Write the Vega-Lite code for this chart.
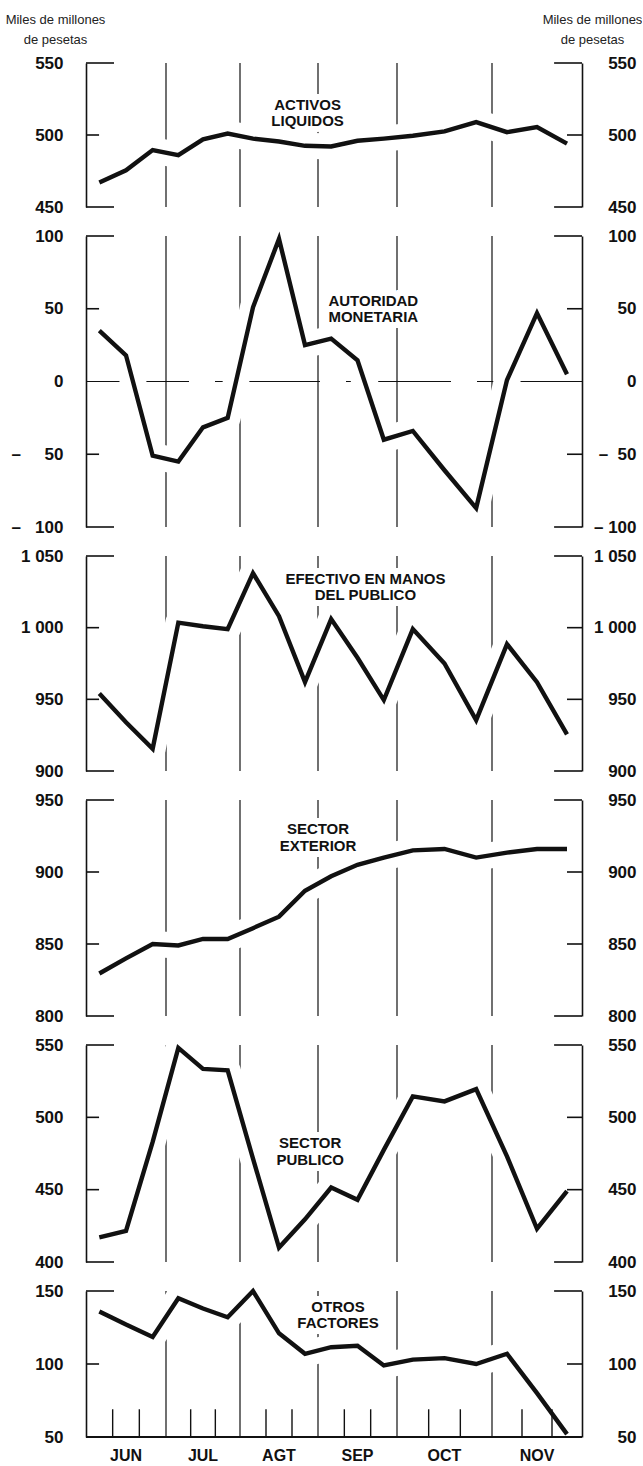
{
  "$schema": "https://vega.github.io/schema/vega-lite/v6.json",
  "background": "white",
  "padding": {"left": 5, "top": 13, "right": 0, "bottom": 0},
  "spacing": 29,
  "bounds": "flush",
  "config": {"view": {"stroke": null}, "font": "Liberation Sans"},
  "datasets": {
    "act": [
      {"i":0.5,"v":467},{"i":1.5,"v":475.5},{"i":2.5,"v":489.5},{"i":3.5,"v":486},{"i":4.5,"v":497},{"i":5.5,"v":501},
      {"i":6.5,"v":497.5},{"i":7.5,"v":495.5},{"i":8.5,"v":492.5},{"i":9.5,"v":492},{"i":10.5,"v":496},{"i":11.5,"v":497.5},
      {"i":12.5,"v":499.5},{"i":13.5,"v":502.5},{"i":14.5,"v":509},{"i":15.5,"v":502},{"i":16.5,"v":505.5},{"i":17.5,"v":494}
    ],
    "aut": [
      {"i":0.5,"v":35},{"i":1.5,"v":18},{"i":2.5,"v":-51},{"i":3.5,"v":-55},{"i":4.5,"v":-31.5},{"i":5.5,"v":-25},
      {"i":6.5,"v":51},{"i":7.5,"v":98},{"i":8.5,"v":25},{"i":9.5,"v":29.5},{"i":10.5,"v":14.5},{"i":11.5,"v":-40},
      {"i":12.5,"v":-34},{"i":13.5,"v":-61},{"i":14.5,"v":-87},{"i":15.5,"v":1},{"i":16.5,"v":47},{"i":17.5,"v":5}
    ],
    "efe": [
      {"i":0.5,"v":954},{"i":1.5,"v":934},{"i":2.5,"v":915.5},{"i":3.5,"v":1003.5},{"i":4.5,"v":1001},{"i":5.5,"v":999},
      {"i":6.5,"v":1038},{"i":7.5,"v":1008},{"i":8.5,"v":962},{"i":9.5,"v":1006},{"i":10.5,"v":979},{"i":11.5,"v":949.5},
      {"i":12.5,"v":999},{"i":13.5,"v":975},{"i":14.5,"v":935.5},{"i":15.5,"v":988.5},{"i":16.5,"v":962},{"i":17.5,"v":925.5}
    ],
    "ext": [
      {"i":0.5,"v":829.5},{"i":1.5,"v":840},{"i":2.5,"v":850},{"i":3.5,"v":849},{"i":4.5,"v":853.5},{"i":5.5,"v":853.5},
      {"i":6.5,"v":861},{"i":7.5,"v":869},{"i":8.5,"v":887},{"i":9.5,"v":897},{"i":10.5,"v":905},{"i":11.5,"v":910},
      {"i":12.5,"v":915},{"i":13.5,"v":916},{"i":14.5,"v":910},{"i":15.5,"v":913.5},{"i":16.5,"v":916},{"i":17.5,"v":916}
    ],
    "pub": [
      {"i":0.5,"v":417},{"i":1.5,"v":421.5},{"i":2.5,"v":483},{"i":3.5,"v":548},{"i":4.5,"v":533.5},{"i":5.5,"v":532.5},
      {"i":6.5,"v":471.5},{"i":7.5,"v":410},{"i":8.5,"v":429.5},{"i":9.5,"v":451.5},{"i":10.5,"v":443},{"i":11.5,"v":477.5},
      {"i":12.5,"v":514.5},{"i":13.5,"v":511},{"i":14.5,"v":519.5},{"i":15.5,"v":473},{"i":16.5,"v":423},{"i":17.5,"v":449}
    ],
    "otr": [
      {"i":0.5,"v":136},{"i":1.5,"v":127},{"i":2.5,"v":118.5},{"i":3.5,"v":145},{"i":4.5,"v":138},{"i":5.5,"v":132},
      {"i":6.5,"v":150},{"i":7.5,"v":121},{"i":8.5,"v":107},{"i":9.5,"v":111.5},{"i":10.5,"v":112.5},{"i":11.5,"v":99},
      {"i":12.5,"v":103},{"i":13.5,"v":104},{"i":14.5,"v":100},{"i":15.5,"v":107},{"i":16.5,"v":80},{"i":17.5,"v":52}
    ],
    "months": [{"b":3},{"b":6},{"b":9},{"b":12},{"b":15}],
    "monthNames": [{"m":"JUN","c":1.5},{"m":"JUL","c":4.5},{"m":"AGT","c":7.5},{"m":"SEP","c":10.5},{"m":"OCT","c":13.5},{"m":"NOV","c":16.5}]
  },
  "vconcat": [
    {
      "width": 496, "height": 144,
      "resolve": {"axis": {"y": "independent"}},
      "layer": [
        {"data": {"name": "months"}, "mark": {"type": "rule", "color": "#111", "strokeWidth": 1.2},
         "encoding": {"x": {"field": "b", "type": "quantitative", "scale": {"domain": [0,3,6,9,12,15,18], "range": [0,80,154,232,311,406,496], "nice": false, "zero": false}, "axis": null}}},
        {"data": {"name": "act"}, "mark": {"type": "line", "color": "white", "strokeWidth": 26, "strokeJoin": "round", "strokeCap": "butt"},
         "encoding": {
           "x": {"field": "i", "type": "quantitative", "axis": null},
           "y": {"field": "v", "type": "quantitative", "scale": {"domain": [450, 550], "nice": false, "zero": false},
                 "axis": {"orient": "left", "values": [450, 500, 550], "domain": true, "domainColor": "#111", "domainWidth": 1.6, "ticks": false, "grid": false,
                          "labelPadding": 23, "labelFontSize": 17, "labelFont": "Liberation Sans", "labelFontWeight": "bold", "labelColor": "#111",
                          "labelFlush": false, "labelOverlap": false, "labelBound": false, "zindex": 2,
                          "title": ["Miles de millones", "de pesetas"], "titleAngle": 0, "titleAlign": "center", "titleBaseline": "alphabetic",
                          "titleX": -31, "titleY": -40, "titleFont": "Liberation Sans", "titleFontSize": 13, "titleFontWeight": "normal", "titleColor": "#222", "titleLineHeight": 20}}
         }},
        {"data": {"values": [{"label": "ACTIVOS\nLIQUIDOS"}]}, "mark": {"type": "text", "lineBreak": "\n", "fontSize": 15, "fontWeight": "bold", "lineHeight": 16, "stroke": "white", "strokeWidth": 12, "baseline": "middle", "align": "center"},
         "encoding": {"x": {"datum": 8.6, "type": "quantitative", "axis": null}, "y": {"datum": 521, "type": "quantitative", "axis": null}, "text": {"field": "label"}}},
        {"data": {"name": "act"}, "mark": {"type": "line", "color": "#111", "strokeWidth": 4.4, "strokeJoin": "miter"},
         "encoding": {
           "x": {"field": "i", "type": "quantitative", "axis": null},
           "y": {"field": "v", "type": "quantitative",
                 "axis": {"orient": "right", "values": [450, 500, 550], "domain": true, "domainColor": "#111", "domainWidth": 1.6, "ticks": false, "grid": false,
                          "labelPadding": 54, "labelAlign": "right", "labelFontSize": 17, "labelFont": "Liberation Sans", "labelFontWeight": "bold", "labelColor": "#111",
                          "labelFlush": false, "labelOverlap": false, "labelBound": false, "zindex": 2,
                          "title": ["Miles de millones", "de pesetas"], "titleAngle": 0, "titleAlign": "center", "titleBaseline": "alphabetic",
                          "titleX": 10, "titleY": -40, "titleFont": "Liberation Sans", "titleFontSize": 13, "titleFontWeight": "normal", "titleColor": "#222", "titleLineHeight": 20}}
         }},
        {"data": {"values": [{"label": "ACTIVOS\nLIQUIDOS"}]}, "mark": {"type": "text", "lineBreak": "\n", "fontSize": 15, "fontWeight": "bold", "lineHeight": 16, "color": "#111", "baseline": "middle", "align": "center"},
         "encoding": {"x": {"datum": 8.6, "type": "quantitative", "axis": null}, "y": {"datum": 521, "type": "quantitative", "axis": null}, "text": {"field": "label"}}},
        {"data": {"values": [{"v": 450}, {"v": 550}]}, "mark": {"type": "rule", "color": "#111", "strokeWidth": 1.6},
         "encoding": {"x": {"datum": 0, "type": "quantitative", "axis": null}, "x2": {"datum": 1.05}, "y": {"field": "v", "type": "quantitative", "axis": null}}},
        {"data": {"values": [{"v": 450}, {"v": 550}]}, "mark": {"type": "rule", "color": "#111", "strokeWidth": 1.6},
         "encoding": {"x": {"datum": 18, "type": "quantitative", "axis": null}, "x2": {"datum": 17.07}, "y": {"field": "v", "type": "quantitative", "axis": null}}},
        {"data": {"values": [{"v": 500}]}, "mark": {"type": "rule", "color": "#111", "strokeWidth": 1.6},
         "encoding": {"x": {"datum": 0, "type": "quantitative", "axis": null}, "x2": {"datum": 0.49}, "y": {"field": "v", "type": "quantitative", "axis": null}}},
        {"data": {"values": [{"v": 500}]}, "mark": {"type": "rule", "color": "#111", "strokeWidth": 1.6},
         "encoding": {"x": {"datum": 18, "type": "quantitative", "axis": null}, "x2": {"datum": 17.5}, "y": {"field": "v", "type": "quantitative", "axis": null}}}
      ]
    },
    {
      "width": 496, "height": 291,
      "resolve": {"axis": {"y": "independent"}},
      "layer": [
        {"data": {"name": "months"}, "mark": {"type": "rule", "color": "#111", "strokeWidth": 1.2},
         "encoding": {"x": {"field": "b", "type": "quantitative", "scale": {"domain": [0,3,6,9,12,15,18], "range": [0,80,154,232,311,406,496], "nice": false, "zero": false}, "axis": null}}},
        {"data": {"values": [{"z": 0}]}, "mark": {"type": "rule", "color": "#111", "strokeWidth": 1.2, "strokeDash": [105, 26]},
         "encoding": {"y": {"field": "z", "type": "quantitative", "scale": {"domain": [-100, 100], "nice": false, "zero": false}, "axis": null}}},
        {"data": {"name": "aut"}, "mark": {"type": "line", "color": "white", "strokeWidth": 26, "strokeJoin": "round", "strokeCap": "butt"},
         "encoding": {
           "x": {"field": "i", "type": "quantitative", "axis": null},
           "y": {"field": "v", "type": "quantitative",
                 "axis": {"orient": "left", "values": [-100, -50, 0, 50, 100], "domain": true, "domainColor": "#111", "domainWidth": 1.6, "ticks": false, "grid": false,
                          "labelPadding": 23, "labelFontSize": 17, "labelFont": "Liberation Sans", "labelFontWeight": "bold", "labelColor": "#111",
                          "labelFlush": false, "labelOverlap": false, "labelBound": false, "zindex": 2, "title": null,
                          "labelExpr": "datum.value == -50 ? '–\u00a0\u00a0\u00a0\u00a0\u00a050' : datum.value == -100 ? '–\u00a0\u00a0\u00a0100' : format(datum.value, 'd')"}}
         }},
        {"data": {"values": [{"label": "AUTORIDAD\nMONETARIA"}]}, "mark": {"type": "text", "lineBreak": "\n", "fontSize": 15, "fontWeight": "bold", "lineHeight": 16, "stroke": "white", "strokeWidth": 12, "baseline": "middle", "align": "center"},
         "encoding": {"x": {"datum": 11.1, "type": "quantitative", "axis": null}, "y": {"datum": 55.5, "type": "quantitative", "axis": null}, "text": {"field": "label"}}},
        {"data": {"name": "aut"}, "mark": {"type": "line", "color": "#111", "strokeWidth": 4.4, "strokeJoin": "miter"},
         "encoding": {
           "x": {"field": "i", "type": "quantitative", "axis": null},
           "y": {"field": "v", "type": "quantitative",
                 "axis": {"orient": "right", "values": [-100, -50, 0, 50, 100], "domain": true, "domainColor": "#111", "domainWidth": 1.6, "ticks": false, "grid": false,
                          "labelPadding": 54, "labelAlign": "right", "labelFontSize": 17, "labelFont": "Liberation Sans", "labelFontWeight": "bold", "labelColor": "#111",
                          "labelFlush": false, "labelOverlap": false, "labelBound": false, "zindex": 2, "title": null,
                          "labelExpr": "datum.value == -50 ? '–\u00a0\u00a050' : datum.value == -100 ? '–\u00a0100' : format(datum.value, 'd')"}}
         }},
        {"data": {"values": [{"label": "AUTORIDAD\nMONETARIA"}]}, "mark": {"type": "text", "lineBreak": "\n", "fontSize": 15, "fontWeight": "bold", "lineHeight": 16, "color": "#111", "baseline": "middle", "align": "center"},
         "encoding": {"x": {"datum": 11.1, "type": "quantitative", "axis": null}, "y": {"datum": 55.5, "type": "quantitative", "axis": null}, "text": {"field": "label"}}},
        {"data": {"values": [{"v": -100}, {"v": 100}]}, "mark": {"type": "rule", "color": "#111", "strokeWidth": 1.6},
         "encoding": {"x": {"datum": 0, "type": "quantitative", "axis": null}, "x2": {"datum": 1.05}, "y": {"field": "v", "type": "quantitative", "axis": null}}},
        {"data": {"values": [{"v": -100}, {"v": 100}]}, "mark": {"type": "rule", "color": "#111", "strokeWidth": 1.6},
         "encoding": {"x": {"datum": 18, "type": "quantitative", "axis": null}, "x2": {"datum": 17.07}, "y": {"field": "v", "type": "quantitative", "axis": null}}},
        {"data": {"values": [{"v": -50}, {"v": 50}]}, "mark": {"type": "rule", "color": "#111", "strokeWidth": 1.6},
         "encoding": {"x": {"datum": 0, "type": "quantitative", "axis": null}, "x2": {"datum": 0.49}, "y": {"field": "v", "type": "quantitative", "axis": null}}},
        {"data": {"values": [{"v": -50}, {"v": 50}]}, "mark": {"type": "rule", "color": "#111", "strokeWidth": 1.6},
         "encoding": {"x": {"datum": 18, "type": "quantitative", "axis": null}, "x2": {"datum": 17.5}, "y": {"field": "v", "type": "quantitative", "axis": null}}}
      ]
    },
    {
      "width": 496, "height": 215,
      "resolve": {"axis": {"y": "independent"}},
      "layer": [
        {"data": {"name": "months"}, "mark": {"type": "rule", "color": "#111", "strokeWidth": 1.2},
         "encoding": {"x": {"field": "b", "type": "quantitative", "scale": {"domain": [0,3,6,9,12,15,18], "range": [0,80,154,232,311,406,496], "nice": false, "zero": false}, "axis": null}}},
        {"data": {"name": "efe"}, "mark": {"type": "line", "color": "white", "strokeWidth": 26, "strokeJoin": "round", "strokeCap": "butt"},
         "encoding": {
           "x": {"field": "i", "type": "quantitative", "axis": null},
           "y": {"field": "v", "type": "quantitative", "scale": {"domain": [900, 1050], "nice": false, "zero": false},
                 "axis": {"orient": "left", "values": [900, 950, 1000, 1050], "domain": true, "domainColor": "#111", "domainWidth": 1.6, "ticks": false, "grid": false,
                          "labelPadding": 23, "labelFontSize": 17, "labelFont": "Liberation Sans", "labelFontWeight": "bold", "labelColor": "#111",
                          "labelFlush": false, "labelOverlap": false, "labelBound": false, "zindex": 2, "title": null,
                          "labelExpr": "replace(format(datum.value, ','), ',', '\u00a0')"}}
         }},
        {"data": {"values": [{"label": "EFECTIVO EN MANOS\nDEL PUBLICO"}]}, "mark": {"type": "text", "lineBreak": "\n", "fontSize": 15, "fontWeight": "bold", "lineHeight": 16, "stroke": "white", "strokeWidth": 12, "baseline": "middle", "align": "center"},
         "encoding": {"x": {"datum": 10.8, "type": "quantitative", "axis": null}, "y": {"datum": 1034, "type": "quantitative", "axis": null}, "text": {"field": "label"}}},
        {"data": {"name": "efe"}, "mark": {"type": "line", "color": "#111", "strokeWidth": 4.4, "strokeJoin": "miter"},
         "encoding": {
           "x": {"field": "i", "type": "quantitative", "axis": null},
           "y": {"field": "v", "type": "quantitative",
                 "axis": {"orient": "right", "values": [900, 950, 1000, 1050], "domain": true, "domainColor": "#111", "domainWidth": 1.6, "ticks": false, "grid": false,
                          "labelPadding": 54, "labelAlign": "right", "labelFontSize": 17, "labelFont": "Liberation Sans", "labelFontWeight": "bold", "labelColor": "#111",
                          "labelFlush": false, "labelOverlap": false, "labelBound": false, "zindex": 2, "title": null,
                          "labelExpr": "replace(format(datum.value, ','), ',', '\u00a0')"}}
         }},
        {"data": {"values": [{"label": "EFECTIVO EN MANOS\nDEL PUBLICO"}]}, "mark": {"type": "text", "lineBreak": "\n", "fontSize": 15, "fontWeight": "bold", "lineHeight": 16, "color": "#111", "baseline": "middle", "align": "center"},
         "encoding": {"x": {"datum": 10.8, "type": "quantitative", "axis": null}, "y": {"datum": 1034, "type": "quantitative", "axis": null}, "text": {"field": "label"}}},
        {"data": {"values": [{"v": 900}, {"v": 1050}]}, "mark": {"type": "rule", "color": "#111", "strokeWidth": 1.6},
         "encoding": {"x": {"datum": 0, "type": "quantitative", "axis": null}, "x2": {"datum": 1.05}, "y": {"field": "v", "type": "quantitative", "axis": null}}},
        {"data": {"values": [{"v": 900}, {"v": 1050}]}, "mark": {"type": "rule", "color": "#111", "strokeWidth": 1.6},
         "encoding": {"x": {"datum": 18, "type": "quantitative", "axis": null}, "x2": {"datum": 17.07}, "y": {"field": "v", "type": "quantitative", "axis": null}}},
        {"data": {"values": [{"v": 950}, {"v": 1000}]}, "mark": {"type": "rule", "color": "#111", "strokeWidth": 1.6},
         "encoding": {"x": {"datum": 0, "type": "quantitative", "axis": null}, "x2": {"datum": 0.49}, "y": {"field": "v", "type": "quantitative", "axis": null}}},
        {"data": {"values": [{"v": 950}, {"v": 1000}]}, "mark": {"type": "rule", "color": "#111", "strokeWidth": 1.6},
         "encoding": {"x": {"datum": 18, "type": "quantitative", "axis": null}, "x2": {"datum": 17.5}, "y": {"field": "v", "type": "quantitative", "axis": null}}}
      ]
    },
    {
      "width": 496, "height": 216,
      "resolve": {"axis": {"y": "independent"}},
      "layer": [
        {"data": {"name": "months"}, "mark": {"type": "rule", "color": "#111", "strokeWidth": 1.2},
         "encoding": {"x": {"field": "b", "type": "quantitative", "scale": {"domain": [0,3,6,9,12,15,18], "range": [0,80,154,232,311,406,496], "nice": false, "zero": false}, "axis": null}}},
        {"data": {"name": "ext"}, "mark": {"type": "line", "color": "white", "strokeWidth": 26, "strokeJoin": "round", "strokeCap": "butt"},
         "encoding": {
           "x": {"field": "i", "type": "quantitative", "axis": null},
           "y": {"field": "v", "type": "quantitative", "scale": {"domain": [800, 950], "nice": false, "zero": false},
                 "axis": {"orient": "left", "values": [800, 850, 900, 950], "domain": true, "domainColor": "#111", "domainWidth": 1.6, "ticks": false, "grid": false,
                          "labelPadding": 23, "labelFontSize": 17, "labelFont": "Liberation Sans", "labelFontWeight": "bold", "labelColor": "#111",
                          "labelFlush": false, "labelOverlap": false, "labelBound": false, "zindex": 2, "title": null}}
         }},
        {"data": {"values": [{"label": "SECTOR\nEXTERIOR"}]}, "mark": {"type": "text", "lineBreak": "\n", "fontSize": 15, "fontWeight": "bold", "lineHeight": 17, "stroke": "white", "strokeWidth": 12, "baseline": "middle", "align": "center"},
         "encoding": {"x": {"datum": 9.0, "type": "quantitative", "axis": null}, "y": {"datum": 930, "type": "quantitative", "axis": null}, "text": {"field": "label"}}},
        {"data": {"name": "ext"}, "mark": {"type": "line", "color": "#111", "strokeWidth": 4.4, "strokeJoin": "miter"},
         "encoding": {
           "x": {"field": "i", "type": "quantitative", "axis": null},
           "y": {"field": "v", "type": "quantitative",
                 "axis": {"orient": "right", "values": [800, 850, 900, 950], "domain": true, "domainColor": "#111", "domainWidth": 1.6, "ticks": false, "grid": false,
                          "labelPadding": 54, "labelAlign": "right", "labelFontSize": 17, "labelFont": "Liberation Sans", "labelFontWeight": "bold", "labelColor": "#111",
                          "labelFlush": false, "labelOverlap": false, "labelBound": false, "zindex": 2, "title": null}}
         }},
        {"data": {"values": [{"label": "SECTOR\nEXTERIOR"}]}, "mark": {"type": "text", "lineBreak": "\n", "fontSize": 15, "fontWeight": "bold", "lineHeight": 17, "color": "#111", "baseline": "middle", "align": "center"},
         "encoding": {"x": {"datum": 9.0, "type": "quantitative", "axis": null}, "y": {"datum": 930, "type": "quantitative", "axis": null}, "text": {"field": "label"}}},
        {"data": {"values": [{"v": 800}, {"v": 950}]}, "mark": {"type": "rule", "color": "#111", "strokeWidth": 1.6},
         "encoding": {"x": {"datum": 0, "type": "quantitative", "axis": null}, "x2": {"datum": 1.05}, "y": {"field": "v", "type": "quantitative", "axis": null}}},
        {"data": {"values": [{"v": 800}, {"v": 950}]}, "mark": {"type": "rule", "color": "#111", "strokeWidth": 1.6},
         "encoding": {"x": {"datum": 18, "type": "quantitative", "axis": null}, "x2": {"datum": 17.07}, "y": {"field": "v", "type": "quantitative", "axis": null}}},
        {"data": {"values": [{"v": 850}, {"v": 900}]}, "mark": {"type": "rule", "color": "#111", "strokeWidth": 1.6},
         "encoding": {"x": {"datum": 0, "type": "quantitative", "axis": null}, "x2": {"datum": 0.49}, "y": {"field": "v", "type": "quantitative", "axis": null}}},
        {"data": {"values": [{"v": 850}, {"v": 900}]}, "mark": {"type": "rule", "color": "#111", "strokeWidth": 1.6},
         "encoding": {"x": {"datum": 18, "type": "quantitative", "axis": null}, "x2": {"datum": 17.5}, "y": {"field": "v", "type": "quantitative", "axis": null}}}
      ]
    },
    {
      "width": 496, "height": 217,
      "resolve": {"axis": {"y": "independent"}},
      "layer": [
        {"data": {"name": "months"}, "mark": {"type": "rule", "color": "#111", "strokeWidth": 1.2},
         "encoding": {"x": {"field": "b", "type": "quantitative", "scale": {"domain": [0,3,6,9,12,15,18], "range": [0,80,154,232,311,406,496], "nice": false, "zero": false}, "axis": null}}},
        {"data": {"name": "pub"}, "mark": {"type": "line", "color": "white", "strokeWidth": 26, "strokeJoin": "round", "strokeCap": "butt"},
         "encoding": {
           "x": {"field": "i", "type": "quantitative", "axis": null},
           "y": {"field": "v", "type": "quantitative", "scale": {"domain": [400, 550], "nice": false, "zero": false},
                 "axis": {"orient": "left", "values": [400, 450, 500, 550], "domain": true, "domainColor": "#111", "domainWidth": 1.6, "ticks": false, "grid": false,
                          "labelPadding": 23, "labelFontSize": 17, "labelFont": "Liberation Sans", "labelFontWeight": "bold", "labelColor": "#111",
                          "labelFlush": false, "labelOverlap": false, "labelBound": false, "zindex": 2, "title": null}}
         }},
        {"data": {"values": [{"label": "SECTOR\nPUBLICO"}]}, "mark": {"type": "text", "lineBreak": "\n", "fontSize": 15, "fontWeight": "bold", "lineHeight": 17, "stroke": "white", "strokeWidth": 12, "baseline": "middle", "align": "center"},
         "encoding": {"x": {"datum": 8.7, "type": "quantitative", "axis": null}, "y": {"datum": 482, "type": "quantitative", "axis": null}, "text": {"field": "label"}}},
        {"data": {"name": "pub"}, "mark": {"type": "line", "color": "#111", "strokeWidth": 4.4, "strokeJoin": "miter"},
         "encoding": {
           "x": {"field": "i", "type": "quantitative", "axis": null},
           "y": {"field": "v", "type": "quantitative",
                 "axis": {"orient": "right", "values": [400, 450, 500, 550], "domain": true, "domainColor": "#111", "domainWidth": 1.6, "ticks": false, "grid": false,
                          "labelPadding": 54, "labelAlign": "right", "labelFontSize": 17, "labelFont": "Liberation Sans", "labelFontWeight": "bold", "labelColor": "#111",
                          "labelFlush": false, "labelOverlap": false, "labelBound": false, "zindex": 2, "title": null}}
         }},
        {"data": {"values": [{"label": "SECTOR\nPUBLICO"}]}, "mark": {"type": "text", "lineBreak": "\n", "fontSize": 15, "fontWeight": "bold", "lineHeight": 17, "color": "#111", "baseline": "middle", "align": "center"},
         "encoding": {"x": {"datum": 8.7, "type": "quantitative", "axis": null}, "y": {"datum": 482, "type": "quantitative", "axis": null}, "text": {"field": "label"}}},
        {"data": {"values": [{"v": 400}, {"v": 550}]}, "mark": {"type": "rule", "color": "#111", "strokeWidth": 1.6},
         "encoding": {"x": {"datum": 0, "type": "quantitative", "axis": null}, "x2": {"datum": 1.05}, "y": {"field": "v", "type": "quantitative", "axis": null}}},
        {"data": {"values": [{"v": 400}, {"v": 550}]}, "mark": {"type": "rule", "color": "#111", "strokeWidth": 1.6},
         "encoding": {"x": {"datum": 18, "type": "quantitative", "axis": null}, "x2": {"datum": 17.07}, "y": {"field": "v", "type": "quantitative", "axis": null}}},
        {"data": {"values": [{"v": 450}, {"v": 500}]}, "mark": {"type": "rule", "color": "#111", "strokeWidth": 1.6},
         "encoding": {"x": {"datum": 0, "type": "quantitative", "axis": null}, "x2": {"datum": 0.49}, "y": {"field": "v", "type": "quantitative", "axis": null}}},
        {"data": {"values": [{"v": 450}, {"v": 500}]}, "mark": {"type": "rule", "color": "#111", "strokeWidth": 1.6},
         "encoding": {"x": {"datum": 18, "type": "quantitative", "axis": null}, "x2": {"datum": 17.5}, "y": {"field": "v", "type": "quantitative", "axis": null}}}
      ]
    },
    {
      "width": 496, "height": 146,
      "resolve": {"axis": {"y": "independent"}},
      "layer": [
        {"data": {"name": "months"}, "mark": {"type": "rule", "color": "#111", "strokeWidth": 1.2},
         "encoding": {"x": {"field": "b", "type": "quantitative", "scale": {"domain": [0,3,6,9,12,15,18], "range": [0,80,154,232,311,406,496], "nice": false, "zero": false}, "axis": null}}},
        {"data": {"name": "otr"}, "mark": {"type": "line", "color": "white", "strokeWidth": 26, "strokeJoin": "round", "strokeCap": "butt"},
         "encoding": {
           "x": {"field": "i", "type": "quantitative", "axis": null},
           "y": {"field": "v", "type": "quantitative", "scale": {"domain": [50, 150], "nice": false, "zero": false},
                 "axis": {"orient": "left", "values": [50, 100, 150], "domain": true, "domainColor": "#111", "domainWidth": 1.6, "ticks": false, "grid": false,
                          "labelPadding": 23, "labelFontSize": 17, "labelFont": "Liberation Sans", "labelFontWeight": "bold", "labelColor": "#111",
                          "labelFlush": false, "labelOverlap": false, "labelBound": false, "zindex": 2, "title": null}}
         }},
        {"data": {"values": [{"label": "OTROS\nFACTORES"}]}, "mark": {"type": "text", "lineBreak": "\n", "fontSize": 15, "fontWeight": "bold", "lineHeight": 16, "stroke": "white", "strokeWidth": 12, "baseline": "middle", "align": "center"},
         "encoding": {"x": {"datum": 9.76, "type": "quantitative", "axis": null}, "y": {"datum": 139, "type": "quantitative", "axis": null}, "text": {"field": "label"}}},
        {"data": {"name": "otr"}, "mark": {"type": "line", "color": "#111", "strokeWidth": 4.4, "strokeJoin": "miter"},
         "encoding": {
           "x": {"field": "i", "type": "quantitative", "axis": null},
           "y": {"field": "v", "type": "quantitative",
                 "axis": {"orient": "right", "values": [50, 100, 150], "domain": true, "domainColor": "#111", "domainWidth": 1.6, "ticks": false, "grid": false,
                          "labelPadding": 54, "labelAlign": "right", "labelFontSize": 17, "labelFont": "Liberation Sans", "labelFontWeight": "bold", "labelColor": "#111",
                          "labelFlush": false, "labelOverlap": false, "labelBound": false, "zindex": 2, "title": null}}
         }},
        {"data": {"values": [{"label": "OTROS\nFACTORES"}]}, "mark": {"type": "text", "lineBreak": "\n", "fontSize": 15, "fontWeight": "bold", "lineHeight": 16, "color": "#111", "baseline": "middle", "align": "center"},
         "encoding": {"x": {"datum": 9.76, "type": "quantitative", "axis": null}, "y": {"datum": 139, "type": "quantitative", "axis": null}, "text": {"field": "label"}}},
        {"data": {"values": [{"t": 1}, {"t": 2}, {"t": 4}, {"t": 5}, {"t": 7}, {"t": 8}, {"t": 10}, {"t": 11}, {"t": 13}, {"t": 14}, {"t": 16}, {"t": 17}]},
         "mark": {"type": "rule", "color": "#111", "strokeWidth": 1.4},
         "encoding": {"x": {"field": "t", "type": "quantitative", "axis": null}, "y": {"datum": 50, "type": "quantitative", "axis": null}, "y2": {"datum": 69}}},
        {"data": {"values": [{"base": 50}]}, "mark": {"type": "rule", "color": "#111", "strokeWidth": 1.8},
         "encoding": {"y": {"field": "base", "type": "quantitative", "axis": null}}},
        {"data": {"name": "monthNames"}, "mark": {"type": "text", "fontSize": 16, "fontWeight": "bold", "color": "#111", "baseline": "alphabetic", "align": "center", "dy": 24},
         "encoding": {"x": {"field": "c", "type": "quantitative", "axis": null}, "y": {"datum": 50, "type": "quantitative", "axis": null}, "text": {"field": "m"}}},
        {"data": {"values": [{"v": 150}]}, "mark": {"type": "rule", "color": "#111", "strokeWidth": 1.6},
         "encoding": {"x": {"datum": 0, "type": "quantitative", "axis": null}, "x2": {"datum": 1.05}, "y": {"field": "v", "type": "quantitative", "axis": null}}},
        {"data": {"values": [{"v": 150}]}, "mark": {"type": "rule", "color": "#111", "strokeWidth": 1.6},
         "encoding": {"x": {"datum": 18, "type": "quantitative", "axis": null}, "x2": {"datum": 17.07}, "y": {"field": "v", "type": "quantitative", "axis": null}}},
        {"data": {"values": [{"v": 100}]}, "mark": {"type": "rule", "color": "#111", "strokeWidth": 1.6},
         "encoding": {"x": {"datum": 0, "type": "quantitative", "axis": null}, "x2": {"datum": 0.49}, "y": {"field": "v", "type": "quantitative", "axis": null}}},
        {"data": {"values": [{"v": 100}]}, "mark": {"type": "rule", "color": "#111", "strokeWidth": 1.6},
         "encoding": {"x": {"datum": 18, "type": "quantitative", "axis": null}, "x2": {"datum": 17.5}, "y": {"field": "v", "type": "quantitative", "axis": null}}}
      ]
    }
  ]
}
